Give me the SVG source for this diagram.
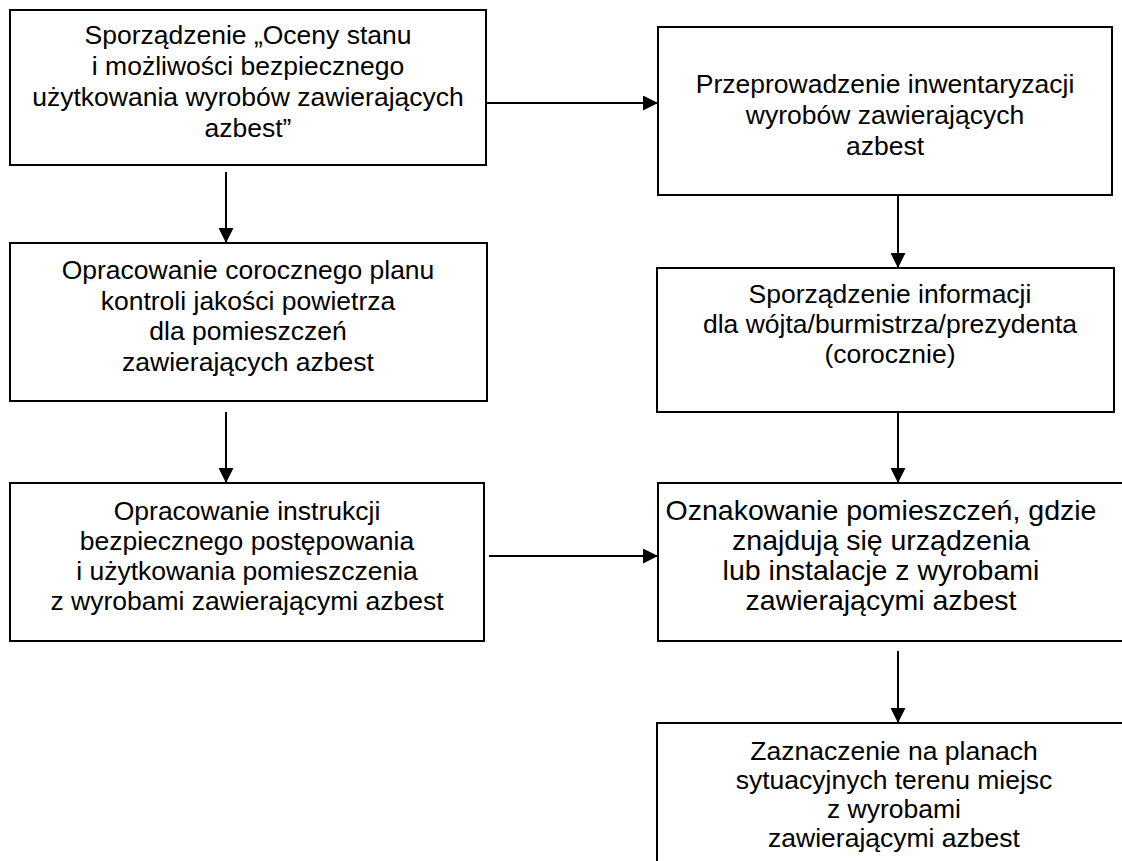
<svg xmlns="http://www.w3.org/2000/svg" width="1122" height="861" viewBox="0 0 1122 861">
<style>
.box{fill:#fff;stroke:#000;stroke-width:2}
.t{font-family:"Liberation Sans",Arial,sans-serif;font-size:26.5px;fill:#000;text-anchor:middle}
.big{font-size:28.5px}
.c{stroke:#000;stroke-width:2;fill:none;marker-end:url(#ah)}
</style>
<defs>
<marker id="ah" markerUnits="userSpaceOnUse" markerWidth="15" markerHeight="15" refX="15" refY="7.5" orient="auto">
<path d="M0,0 L15,7.5 L0,15 z" fill="#000"/>
</marker>
</defs>
<rect width="1122" height="861" fill="#fff"/>
<g id="connectors">
<line class="c" x1="487" y1="103" x2="658" y2="103"/>
<line class="c" x1="226" y1="172" x2="226" y2="243"/>
<line class="c" x1="226" y1="412" x2="226" y2="483"/>
<line class="c" x1="898" y1="196" x2="898" y2="268"/>
<line class="c" x1="898" y1="413" x2="898" y2="483"/>
<line class="c" x1="489" y1="556" x2="658" y2="556"/>
<line class="c" x1="898" y1="651" x2="898" y2="723"/>
</g>
<g id="n1">
<rect class="box" x="10" y="10" width="476" height="155"/>
<text class="t"><tspan x="248" y="44">Sporządzenie „Oceny stanu</tspan><tspan x="248" y="75">i możliwości bezpiecznego</tspan><tspan x="248" y="106">użytkowania wyrobów zawierających</tspan><tspan x="248" y="137">azbest”</tspan></text>
</g>
<g id="n2">
<rect class="box" x="658" y="27" width="454" height="168"/>
<text class="t"><tspan x="885" y="93">Przeprowadzenie inwentaryzacji</tspan><tspan x="885" y="124">wyrobów zawierających</tspan><tspan x="885" y="155">azbest</tspan></text>
</g>
<g id="n3">
<rect class="box" x="10" y="243" width="477" height="158"/>
<text class="t"><tspan x="248" y="279">Opracowanie corocznego planu</tspan><tspan x="248" y="310">kontroli jakości powietrza</tspan><tspan x="248" y="340">dla pomieszczeń</tspan><tspan x="248" y="371">zawierających azbest</tspan></text>
</g>
<g id="n4">
<rect class="box" x="657" y="268" width="457" height="144"/>
<text class="t"><tspan x="890" y="303">Sporządzenie informacji</tspan><tspan x="890" y="333">dla wójta/burmistrza/prezydenta</tspan><tspan x="890" y="363">(corocznie)</tspan></text>
</g>
<g id="n5">
<rect class="box" x="10" y="483" width="474" height="158"/>
<text class="t"><tspan x="247" y="520">Opracowanie instrukcji</tspan><tspan x="247" y="550">bezpiecznego postępowania</tspan><tspan x="247" y="580">i użytkowania pomieszczenia</tspan><tspan x="247" y="610">z wyrobami zawierającymi azbest</tspan></text>
</g>
<g id="n6">
<rect class="box" x="658" y="483" width="470" height="158"/>
<text class="t big"><tspan x="881" y="520">Oznakowanie pomieszczeń, gdzie</tspan><tspan x="881" y="550">znajdują się urządzenia</tspan><tspan x="881" y="580">lub instalacje z wyrobami</tspan><tspan x="881" y="610">zawierającymi azbest</tspan></text>
</g>
<g id="n7">
<rect class="box" x="657" y="723" width="470" height="160"/>
<text class="t"><tspan x="894" y="760">Zaznaczenie na planach</tspan><tspan x="894" y="789">sytuacyjnych terenu miejsc</tspan><tspan x="894" y="818">z wyrobami</tspan><tspan x="894" y="847">zawierającymi azbest</tspan></text>
</g>
</svg>
